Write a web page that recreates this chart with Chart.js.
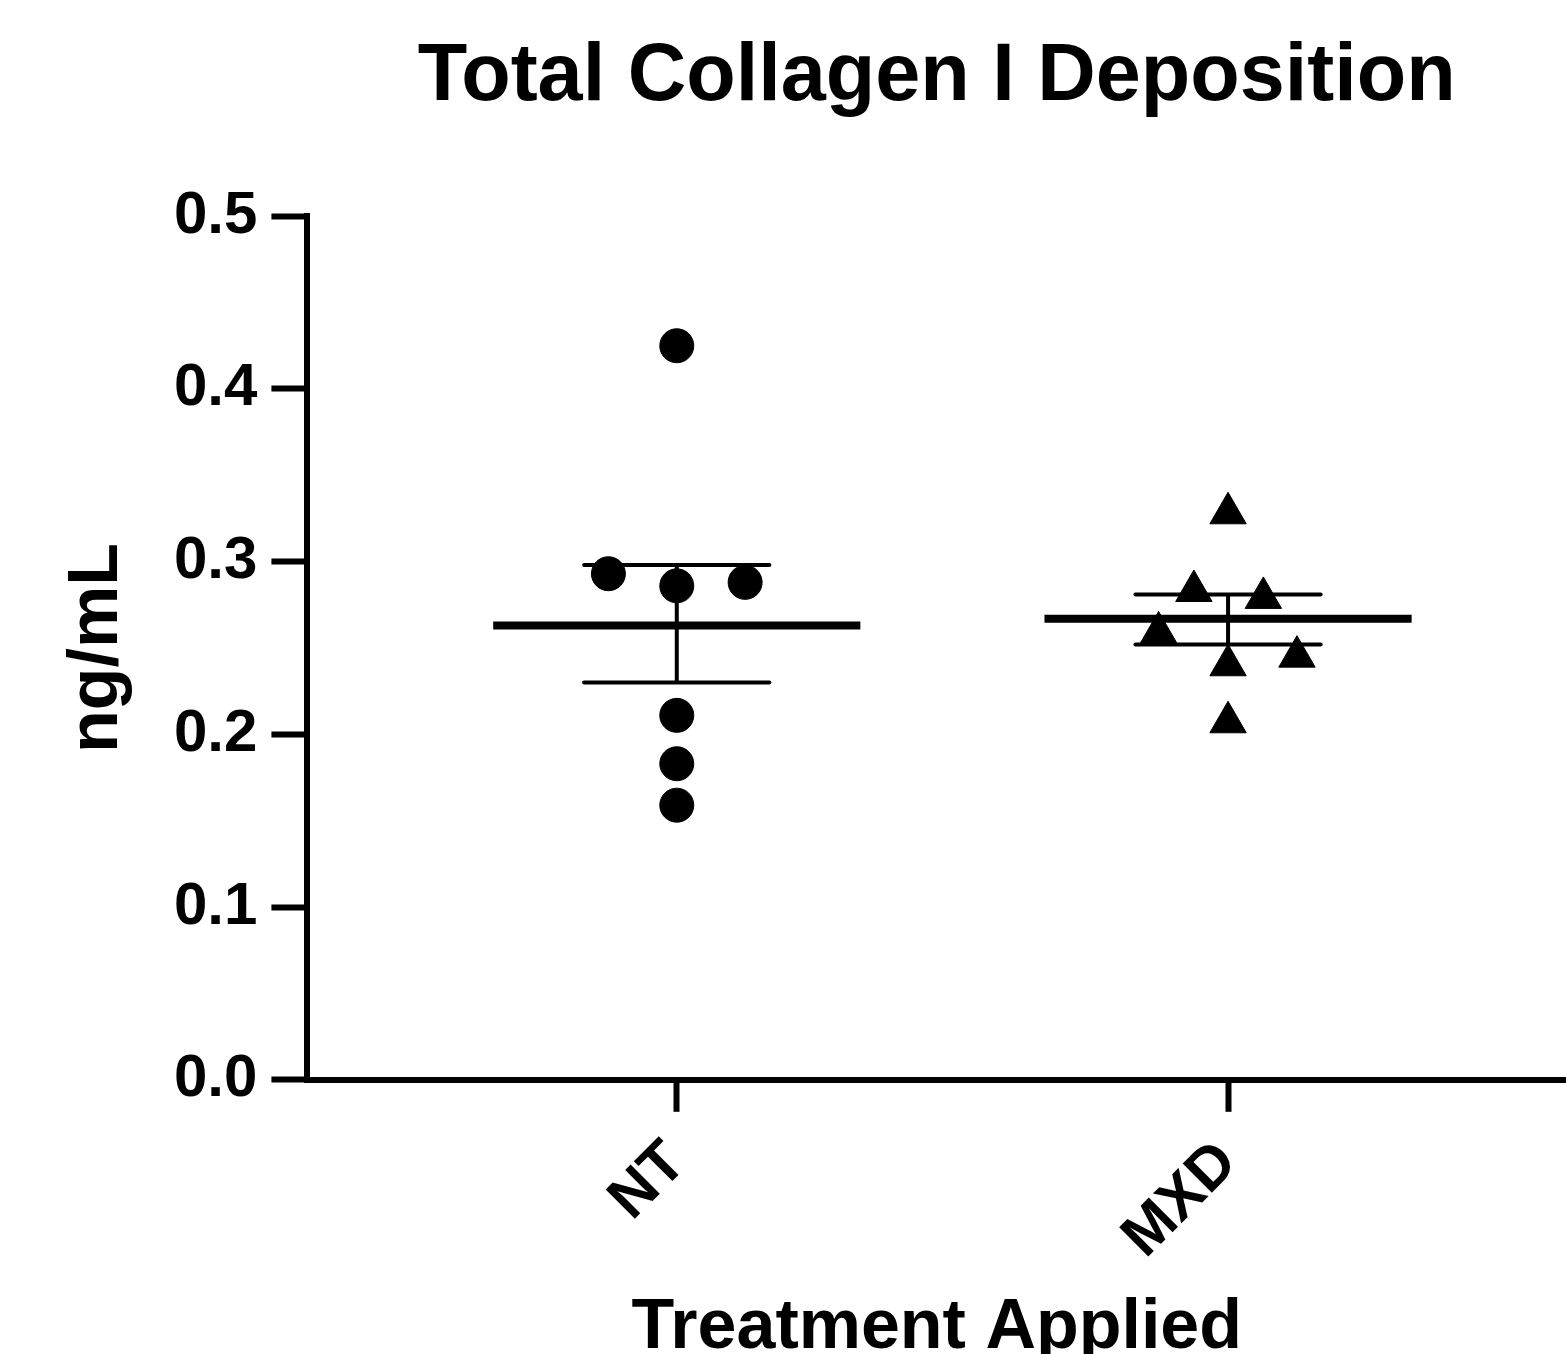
<!DOCTYPE html>
<html lang="en">
<head>
    <meta charset="UTF-8">
    <title>Total Collagen I Deposition</title>
    <script src="https://cdn.jsdelivr.net/npm/chart.js@4.4.1/dist/chart.umd.min.js"></script>
    <style>
        html, body {
            margin: 0;
            padding: 0;
            background: #fff;
            overflow: hidden;
        }
        #wrap {
            width: 1566px;
            height: 1354px;
        }
        canvas {
            display: block;
        }
    </style>
</head>
<body>
    <div id="wrap">
        <canvas id="chart"></canvas>
    </div>

    <script>
        // Data
        const categories = ['NT', 'MXD'];
        const ntValues = [0.425, 0.293, 0.286, 0.288, 0.211, 0.183, 0.159];
        const mxdValues = [0.328, 0.283, 0.279, 0.259, 0.240, 0.245, 0.207];
        const means = [0.263, 0.267];
        const errHigh = [0.298, 0.281];
        const errLow = [0.230, 0.252];
        const yTicks = [0.0, 0.1, 0.2, 0.3, 0.4, 0.5];

        // horizontal scatter of the points inside each column (x units)
        const ntJitter = [0, -0.124, 0, 0.124, 0, 0, 0];
        const mxdJitter = [0, -0.062, 0.064, -0.126, 0, 0.125, 0];

        const FONT = '"Liberation Sans", Arial, Helvetica, sans-serif';
        const meanHalf = 0.333;
        const capHalf = 0.168;

        function pts(values, jitter, pos) {
            return values.map((v, i) => ({ x: pos + jitter[i], y: v }));
        }

        function segment(x1, y1, x2, y2, width, cap) {
            return {
                type: 'scatter',
                data: [{ x: x1, y: y1 }, { x: x2, y: y2 }],
                showLine: true,
                borderColor: '#000',
                borderWidth: width,
                borderCapStyle: cap,
                pointRadius: 0,
                order: 2
            };
        }

        const datasets = [
            {
                label: 'NT',
                data: pts(ntValues, ntJitter, 1),
                pointStyle: 'circle',
                pointRadius: 17,
                backgroundColor: '#000',
                borderColor: '#000',
                borderWidth: 1,
                order: 0
            },
            {
                label: 'MXD',
                data: pts(mxdValues, mxdJitter, 2),
                pointStyle: 'triangle',
                pointRadius: 21,
                backgroundColor: '#000',
                borderColor: '#000',
                borderWidth: 1,
                order: 0
            }
        ];

        categories.forEach((c, i) => {
            const x = i + 1;
            datasets.push(segment(x - meanHalf, means[i], x + meanHalf, means[i], 8, 'butt'));
            datasets.push(segment(x, errLow[i], x, errHigh[i], 4, 'butt'));
            datasets.push(segment(x - capHalf, errHigh[i], x + capHalf, errHigh[i], 4, 'round'));
            datasets.push(segment(x - capHalf, errLow[i], x + capHalf, errLow[i], 4, 'round'));
        });

        new Chart(document.getElementById('chart'), {
            type: 'scatter',
            data: { datasets: datasets },
            options: {
                responsive: true,
                maintainAspectRatio: false,
                animation: false,
                layout: {
                    autoPadding: false,
                    padding: { left: 20, right: 0, top: 0, bottom: -10 }
                },
                plugins: {
                    legend: { display: false },
                    tooltip: { enabled: false },
                    title: {
                        display: true,
                        fullSize: false,
                        text: 'Total Collagen I Deposition',
                        color: '#000',
                        font: { family: FONT, size: 81, weight: 'bold', lineHeight: 1.2 },
                        padding: { top: 29, bottom: 90 }
                    }
                },
                scales: {
                    x: {
                        type: 'linear',
                        min: 0.33,
                        max: 2.613,
                        afterBuildTicks: (scale) => {
                            scale.ticks = categories.map((c, i) => ({ value: i + 1 }));
                        },
                        afterFit: (scale) => {
                            // labels sit well inside the plot, so no side padding is needed
                            scale.paddingLeft = 0;
                            scale.paddingRight = 0;
                        },
                        border: { display: true, color: '#000', width: 6 },
                        grid: {
                            display: true,
                            drawOnChartArea: false,
                            drawTicks: true,
                            tickLength: 32,
                            tickWidth: 6,
                            tickColor: '#000'
                        },
                        ticks: {
                            color: '#000',
                            font: { family: FONT, size: 60, weight: 'bold' },
                            minRotation: 45,
                            maxRotation: 45,
                            padding: 16,
                            callback: (v) => categories[Math.round(v) - 1]
                        },
                        title: {
                            display: true,
                            text: 'Treatment Applied',
                            color: '#000',
                            font: { family: FONT, size: 70, weight: 'bold', lineHeight: 1.0 },
                            padding: { top: 5, bottom: 0 }
                        }
                    },
                    y: {
                        min: 0,
                        max: 0.5,
                        afterBuildTicks: (scale) => {
                            scale.ticks = yTicks.map(v => ({ value: v }));
                        },
                        border: { display: true, color: '#000', width: 6 },
                        grid: {
                            display: true,
                            drawOnChartArea: false,
                            drawTicks: true,
                            tickLength: 36,
                            tickWidth: 6,
                            tickColor: '#000'
                        },
                        ticks: {
                            color: '#000',
                            font: { family: FONT, size: 60, weight: 'bold' },
                            padding: 14,
                            callback: (v) => v.toFixed(1)
                        },
                        title: {
                            display: true,
                            text: 'ng/mL',
                            color: '#000',
                            font: { family: FONT, size: 70, weight: 'bold', lineHeight: 1.2 },
                            padding: { top: 36, bottom: 20 }
                        }
                    }
                }
            }
        });
    </script>
</body>
</html>
